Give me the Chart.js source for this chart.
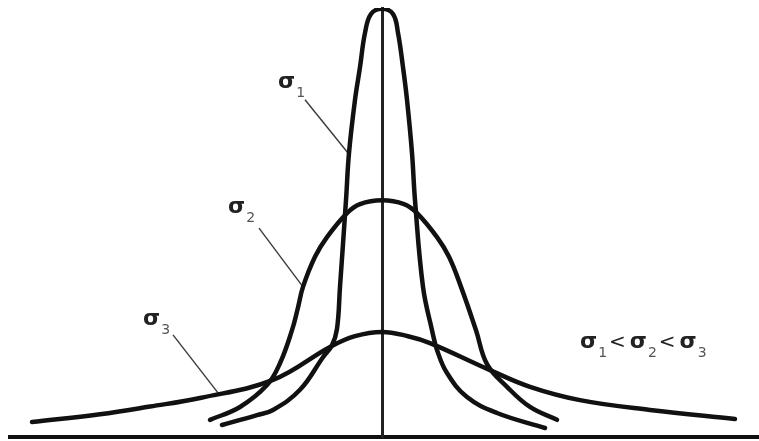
<!DOCTYPE html>
<html>
<head>
<meta charset="utf-8">
<script src="https://cdn.jsdelivr.net/npm/chart.js@4.4.1/dist/chart.umd.min.js"></script>
<style>
	html, body { margin: 0; padding: 0; background: #fff; }
	#wrap { width: 759px; height: 441px; position: relative; }
</style>
</head>
<body>
<div id="wrap"><canvas id="chart"></canvas></div>
<script>
// sigma 1 : narrow, tall
const sigma1X = [-8.0, -6.25, -5.45, -4.1, -2.95, -2.5, -2.25, -2.1, -1.8, -1.65, -1.35, -1.1, -0.85, -0.55, 0, 0.55, 0.8, 1.05, 1.25, 1.5, 1.65, 2.05, 2.5, 2.75, 3.25, 4.25, 5.75, 8.15];
const sigma1Y = [0.28, 0.51, 0.63, 1.10, 1.86, 2.14, 2.52, 3.50, 5.52, 6.62, 7.86, 8.62, 9.42, 9.86, 9.98, 9.86, 9.42, 8.62, 7.86, 6.62, 5.52, 3.50, 2.49, 2.03, 1.49, 0.93, 0.56, 0.21];

// sigma 2 : medium, flat top
const sigma2X = [-8.6, -7.1, -5.75, -5.1, -4.5, -4.2, -3.95, -3.35, -2.75, -1.75, -1.1, 0, 1.1, 1.75, 2.75, 3.35, 3.95, 4.7, 5.25, 6.25, 7.4, 8.75];
const sigma2Y = [0.40, 0.70, 1.21, 1.72, 2.49, 3.02, 3.50, 4.20, 4.66, 5.22, 5.43, 5.52, 5.43, 5.22, 4.66, 4.20, 3.50, 2.49, 1.70, 1.17, 0.70, 0.40];

// sigma 3 : wide, low
const sigma3X = [-17.5, -14.1, -11.6, -9.1, -5.45, -2.6, -1.35, 0, 1.3, 2.4, 5.4, 7.4, 9.9, 13.4, 17.65];
const sigma3Y = [0.35, 0.53, 0.71, 0.91, 1.33, 2.10, 2.35, 2.45, 2.35, 2.19, 1.56, 1.17, 0.86, 0.63, 0.42];

// leader lines from label to curve
const leader1 = [[-3.85, 7.86], [-1.7, 6.62]];
const leader2 = [[-6.15, 4.87], [-3.95, 3.50]];
const leader3 = [[-10.45, 2.38], [-8.2, 1.03]];

const subscripts = [`1`, `2`, `3`];
// where each label sits (data coords, σ baseline-left)
const labelAt = [[-5.2, 8.14], [-7.7, 5.22], [-11.95, 2.61]];
const relationAt = [9.9, 2.07];

const zip = (xs, ys) => xs.map((x, i) => ({ x, y: ys[i] }));
const pts = (pairs) => pairs.map(([x, y]) => ({ x, y }));

const curve = (data) => ({
	data,
	borderColor: `#111`,
	borderWidth: 4.5,
	borderCapStyle: `round`,
	borderJoinStyle: `round`,
	pointRadius: 0,
	tension: 0.4,
});

const leader = (data) => ({
	data,
	borderColor: `#3a3a3a`,
	borderWidth: 1.4,
	pointRadius: 0,
	tension: 0,
});

const SIGMA_FONT = `bold 22px "DejaVu Sans"`;
const SUB_FONT = `14px "DejaVu Sans"`;

function drawSigma(ctx, x, y, sub) {
	ctx.font = SIGMA_FONT;
	ctx.fillStyle = `#222`;
	ctx.fillText(`σ`, x, y);
	const w = ctx.measureText(`σ`).width;
	ctx.font = SUB_FONT;
	ctx.fillStyle = `#555`;
	ctx.fillText(sub, x + w + 1, y + 9);
	return x + w + 1 + ctx.measureText(sub).width;
}

const labelPlugin = {
	id: `sigmaLabels`,
	afterDatasetsDraw(chart) {
		const { ctx, scales: { x: xs, y: ys } } = chart;
		ctx.save();
		ctx.textBaseline = `alphabetic`;
		labelAt.forEach(([lx, ly], i) => {
			drawSigma(ctx, xs.getPixelForValue(lx), ys.getPixelForValue(ly), subscripts[i]);
		});

		let px = xs.getPixelForValue(relationAt[0]);
		const py = ys.getPixelForValue(relationAt[1]);
		subscripts.forEach((sub, i) => {
			px = drawSigma(ctx, px, py, sub);
			if (i < subscripts.length - 1) {
				ctx.font = `20px "DejaVu Sans"`;
				ctx.fillStyle = `#222`;
				ctx.fillText(`<`, px + 2, py);
				px += ctx.measureText(`<`).width + 6;
			}
		});
		ctx.restore();
	},
};

new Chart(document.getElementById(`chart`), {
	type: `line`,
	data: {
		datasets: [
			curve(zip(sigma1X, sigma1Y)),
			curve(zip(sigma2X, sigma2Y)),
			curve(zip(sigma3X, sigma3Y)),
			leader(pts(leader1)),
			leader(pts(leader2)),
			leader(pts(leader3)),
		],
	},
	options: {
		responsive: true,
		maintainAspectRatio: false,
		animation: false,
		layout: { padding: { left: 10, right: 0, top: 8, bottom: 4 } },
		plugins: { legend: { display: false }, tooltip: { enabled: false } },
		scales: {
			x: {
				type: `linear`,
				min: -18.6,
				max: 18.85,
				ticks: { display: false },
				grid: { display: false, drawTicks: false },
				border: { display: true, color: `#111`, width: 4 },
			},
			y: {
				position: { x: 0 },
				min: 0,
				max: 10,
				ticks: { display: false },
				grid: { display: false, drawTicks: false },
				border: { display: true, color: `#222`, width: 3 },
			},
		},
	},
	plugins: [labelPlugin],
});
</script>
</body>
</html>
